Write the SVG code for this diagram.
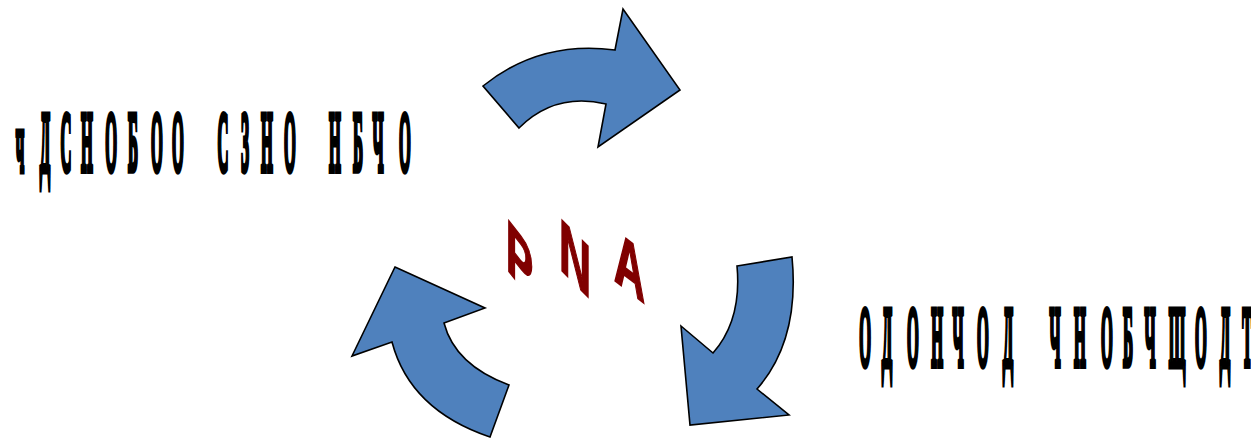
<svg xmlns="http://www.w3.org/2000/svg" width="1251" height="438" viewBox="0 0 1251 438">
<style>
.arrow{fill:#4f81bd;stroke:#000;stroke-width:1.6;stroke-linejoin:miter}
.lbl{font-family:"Liberation Serif",serif;font-weight:bold;font-size:84px;fill:#000;stroke:#000;stroke-width:7;text-anchor:middle}
.wa{font-family:"Liberation Sans",sans-serif;font-weight:bold;font-size:74px;fill:#800000;stroke:#800000;stroke-width:2}
</style>
<rect width="1251" height="438" fill="#fff"/>
<g id="connectors">
<path id="arrow-top" class="arrow" d="M483,86 Q540,40 615,50 L623,9 L680,90 L598,147 L606,104 Q555,92 519,128 Z"/>
<path id="arrow-right" class="arrow" d="M737,266 L792,257 Q800,340 757,389 L789,415 L690,425 L681,326 L713,353 Q742,320 737,266 Z"/>
<path id="arrow-left" class="arrow" d="M395,267 L485,308 L444,323 Q455,365 509,385 L490,437 Q410,410 392,342 L352,356 Z"/>
</g>
<g id="label-left">
<text class="lbl" transform="matrix(0.18 0 0 1 0 0)" y="171" x="111.1 250 366.7 483.3 616.7 738.9 872.2 988.9 1111.1 1238.9 1361.1 1483.3 1611.1 1733.3 1861.1 1988.9 2100 2250">чДСНОБОО СЗНО НБЧО</text>
</g>
<g id="label-right">
<text class="lbl" transform="matrix(0.18 0 0 1 0 0)" y="366" x="4805.6 4927.8 5072.2 5205.6 5322.2 5461.1 5600 5727.8 5861.1 6000 6150 6266.7 6388.9 6538.9 6672.2 6805.6 6930">ОДОНЧОД ЧНОБЧЩОДТ</text>
</g>
<g id="center-title">
<text class="wa" transform="translate(506,268) matrix(0.55 0.7 0 1 0 0)" x="0" y="0">P</text>
<text class="wa" transform="translate(559,268) matrix(0.6 0.6 0 1 0 0)" x="0" y="0">N</text>
<text class="wa" transform="translate(614,280) matrix(0.58 0.45 0 1 0 0)" x="0" y="0">A</text>
</g>
</svg>
